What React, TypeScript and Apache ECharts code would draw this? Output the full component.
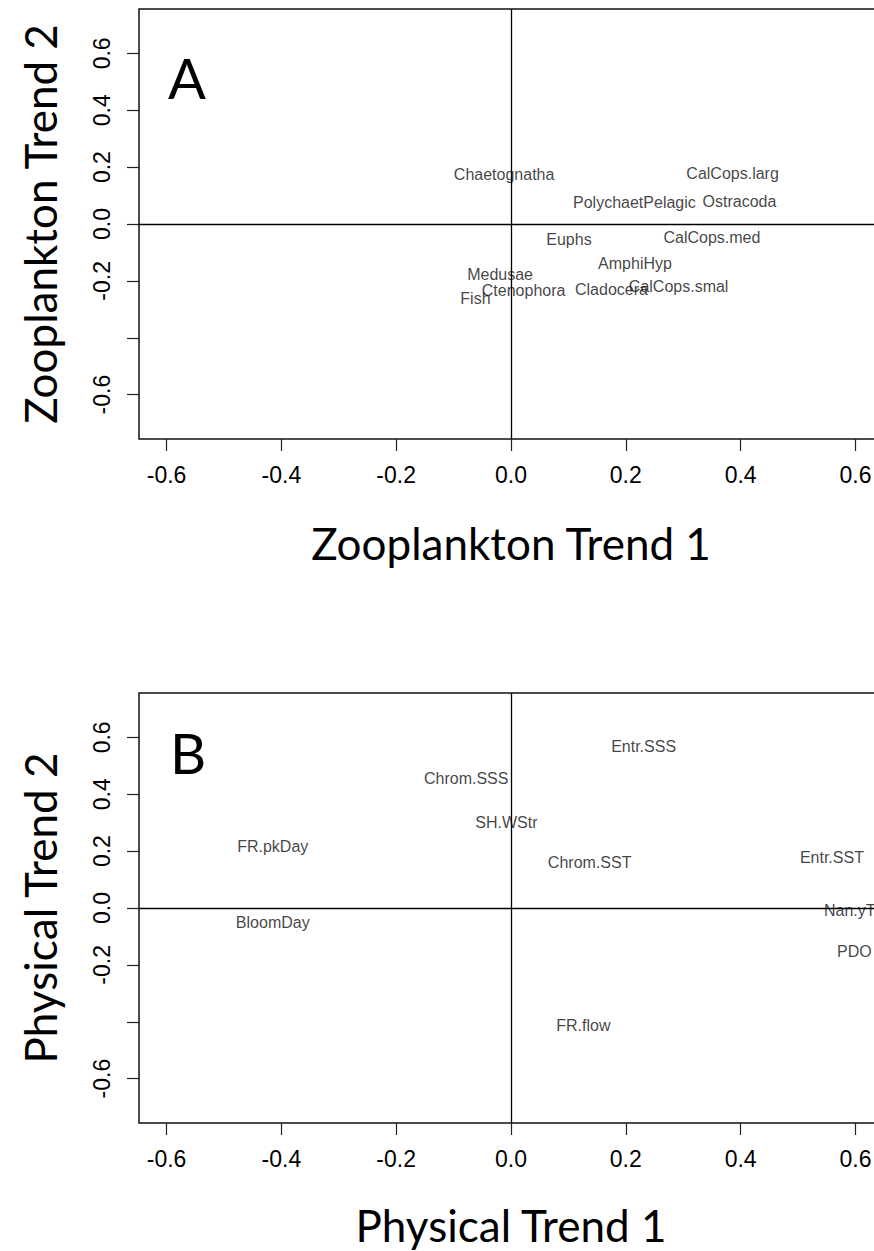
import React, { useEffect, useRef } from 'react';
import * as echarts from 'echarts';

// Axis ticks
const xTickValues = [-0.6, -0.4, -0.2, 0, 0.2, 0.4, 0.6];
const yTickValues = [-0.6, -0.4, -0.2, 0, 0.2, 0.4, 0.6];
const yLabelValues = [-0.6, -0.2, 0, 0.2, 0.4, 0.6];
const axisLimit = 0.648;

// Panel A: zooplankton loadings
const zooNames = ['Chaetognatha', 'CalCops.larg', 'PolychaetPelagic', 'Ostracoda', 'Euphs', 'CalCops.med', 'AmphiHyp', 'Medusae', 'Ctenophora', 'Cladocera', 'CalCops.smal', 'Fish'];
const zooX = [-0.012, 0.386, 0.215, 0.398, 0.101, 0.350, 0.216, -0.019, 0.022, 0.175, 0.292, -0.062];
const zooY = [0.173, 0.178, 0.075, 0.078, -0.056, -0.048, -0.138, -0.176, -0.234, -0.232, -0.220, -0.261];

// Panel B: physical loadings
const physNames = ['Entr.SSS', 'Chrom.SSS', 'SH.WStr', 'FR.pkDay', 'Chrom.SST', 'Entr.SST', 'Nan.yT', 'BloomDay', 'PDO', 'FR.flow'];
const physX = [0.231, -0.078, -0.008, -0.415, 0.137, 0.559, 0.590, -0.415, 0.598, 0.126];
const physY = [0.568, 0.455, 0.300, 0.217, 0.161, 0.176, -0.010, -0.051, -0.154, -0.412];

const titleFont = 'Lato, "Open Sans", sans-serif';
const labelFont = '"Liberation Sans", Arial, sans-serif';

function makeX(gridIndex: number) {
  return {
    type: 'value',
    gridIndex,
    min: -axisLimit,
    max: axisLimit,
    axisLine: { show: false, onZero: false },
    splitLine: { show: false },
    axisTick: { show: true, length: 12, customValues: xTickValues, lineStyle: { color: '#222', width: 1.2 } },
    axisLabel: {
      show: true,
      customValues: xTickValues,
      formatter: (v: number) => v.toFixed(1),
      fontSize: 23,
      fontFamily: labelFont,
      color: '#000',
      margin: 24,
    },
  };
}

function makeY(gridIndex: number) {
  return {
    type: 'value',
    gridIndex,
    min: -0.756,
    max: 0.756,
    axisLine: { show: false, onZero: false },
    splitLine: { show: false },
    axisTick: { show: true, length: 12, customValues: yTickValues, lineStyle: { color: '#222', width: 1.2 } },
    axisLabel: {
      show: true,
      customValues: yLabelValues,
      formatter: (v: number) => v.toFixed(1),
      fontSize: 23,
      fontFamily: labelFont,
      color: '#000',
      rotate: 90,
      margin: 26,
    },
  };
}

function makeSeries(idx: number, names: string[], xs: number[], ys: number[]) {
  return {
    type: 'scatter',
    xAxisIndex: idx,
    yAxisIndex: idx,
    symbolSize: 1,
    itemStyle: { color: 'rgba(0,0,0,0)' },
    silent: true,
    data: names.map((n, i) => ({ name: n, value: [xs[i], ys[i]] })),
    label: {
      show: true,
      position: 'inside',
      formatter: (p: any) => p.name,
      fontSize: 16,
      fontFamily: labelFont,
      color: '#111',
      align: 'center',
      verticalAlign: 'middle',
    },
    markLine: {
      silent: true,
      symbol: ['none', 'none'],
      label: { show: false },
      lineStyle: { type: 'solid', color: '#000', width: 1.3 },
      data: [{ xAxis: 0 }, { yAxis: 0 }],
    },
  };
}

export default function App() {
  const ref = useRef<HTMLDivElement>(null);
  useEffect(() => {
    if (!ref.current) return;
    const chart = echarts.init(ref.current, undefined, { renderer: 'svg' });
    chart.setOption({
      animation: false,
      backgroundColor: '#fff',
      grid: [
        { left: 139, top: 9, width: 744, height: 430, show: true, borderColor: '#111', borderWidth: 1.5, backgroundColor: 'transparent' },
        { left: 139, top: 693, width: 744, height: 430, show: true, borderColor: '#111', borderWidth: 1.5, backgroundColor: 'transparent' },
      ],
      xAxis: [makeX(0), makeX(1)],
      yAxis: [makeY(0), makeY(1)],
      series: [makeSeries(0, zooNames, zooX, zooY), makeSeries(1, physNames, physX, physY)],
      graphic: [
        { type: 'text', x: 187, y: 77, style: { text: 'A', fontSize: 56, fontFamily: titleFont, fill: '#000', align: 'center', verticalAlign: 'middle' } },
        { type: 'text', x: 188, y: 752, style: { text: 'B', fontSize: 56, fontFamily: titleFont, fill: '#000', align: 'center', verticalAlign: 'middle' } },
        { type: 'text', x: 511, y: 543, style: { text: 'Zooplankton Trend 1', fontSize: 44, fontFamily: titleFont, fill: '#000', align: 'center', verticalAlign: 'middle' } },
        { type: 'text', x: 40, y: 224, rotation: Math.PI / 2, style: { text: 'Zooplankton Trend 2', fontSize: 44, fontFamily: titleFont, fill: '#000', align: 'center', verticalAlign: 'middle' } },
        { type: 'text', x: 511, y: 1225, style: { text: 'Physical Trend 1', fontSize: 44, fontFamily: titleFont, fill: '#000', align: 'center', verticalAlign: 'middle' } },
        { type: 'text', x: 40, y: 908, rotation: Math.PI / 2, style: { text: 'Physical Trend 2', fontSize: 44, fontFamily: titleFont, fill: '#000', align: 'center', verticalAlign: 'middle' } },
      ],
    });
    return () => chart.dispose();
  }, []);
  return (
    <div style={{ position: 'fixed', left: 0, top: 0, width: 874, height: 1251, overflow: 'hidden', background: '#fff' }}>
      <div ref={ref} style={{ width: 900, height: 1251 }} />
    </div>
  );
}
